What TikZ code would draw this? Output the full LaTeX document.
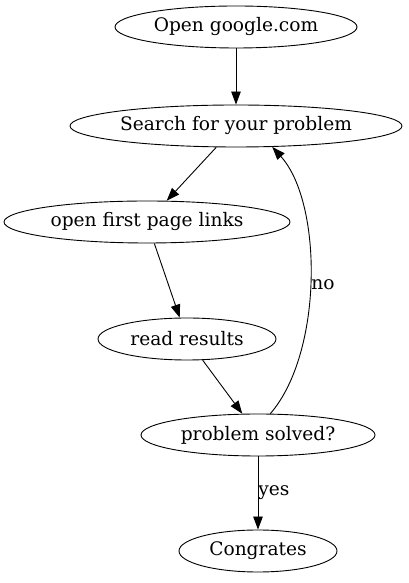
\documentclass[tikz,border=0pt]{standalone}
\usepackage{fontspec}
\setmainfont{DejaVu Serif}
\usetikzlibrary{shapes.geometric,arrows.meta}
\begin{document}
\begin{tikzpicture}[
            x=1pt, y=1pt, line width=0.9pt,
            every node/.style = {font=\fontsize{18.6}{21}\selectfont},
            state/.style = {shape=ellipse, draw=black, inner sep=0pt, minimum height=42pt},
            edge/.style = {draw=black, -{Triangle[length=13pt,width=9.5pt]}}
          ]
          \useasboundingbox (0,0) rectangle (409,583);
          \node[state, minimum width=242pt] (open) at (236,556) {Open google.com};
          \node[state, minimum width=332pt] (search) at (236,457) {Search for your problem};
          \node[state, minimum width=286pt] (first) at (147,361) {open first page links};
          \node[state, minimum width=178pt] (read) at (187,244) {read results};
          \node[state, minimum width=234pt] (solved) at (258,148) {problem solved?};
          \node[state, minimum width=158pt] (congr) at (258,32) {Congrates};
          \draw[edge] (open) -- (search);
          \draw[edge] (search) -- (first);
          \draw[edge] (first) -- (read);
          \draw[edge] (read) -- (solved);
          \draw[edge] (solved.60) .. controls (323,230) and (323,380) .. node[pos=0.48, anchor=west, inner sep=1pt] (no) {no} (search.-30);
          \draw[edge] (solved) -- node[anchor=west, inner sep=0pt] (yes) {yes} (congr);
        \end{tikzpicture}
\end{document}
